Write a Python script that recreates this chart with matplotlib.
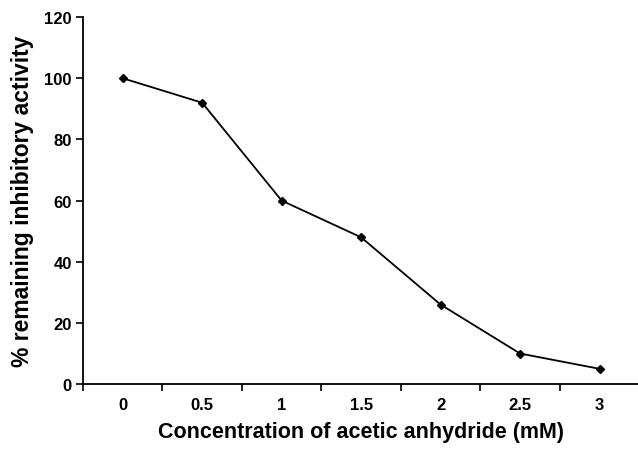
import numpy as np
import matplotlib
matplotlib.use('Agg')
import matplotlib.pyplot as plt

plt.rcParams['font.family'] = ['Liberation Sans', 'DejaVu Sans']
plt.rcParams['font.weight'] = 'bold'

conc_labels = ['0', '0.5', '1', '1.5', '2', '2.5', '3']
activity = [100, 92, 60, 48, 26, 10, 5]

fig = plt.figure(figsize=(6.38, 4.52), dpi=100)
ax = fig.add_axes([0.130, 0.148, 0.872, 0.812])

x = np.arange(len(conc_labels))
ax.plot(x, activity, color='black', lw=1.3, marker='D', ms=4.5,
        markerfacecolor='black', markeredgecolor='black')

ax.set_xlim(-0.5, len(conc_labels) - 0.5)
ax.set_ylim(0, 120)
ax.set_yticks(range(0, 121, 20))

# category axis: tick marks between categories, labels centred
ax.set_xticks(np.arange(-0.5, len(conc_labels), 1.0))
ax.set_xticklabels([])
ax.set_xticks(x, minor=True)
ax.set_xticklabels(conc_labels, minor=True)
ax.tick_params(axis='x', which='major', direction='out', length=5, width=1.2)
ax.tick_params(axis='x', which='minor', length=0, pad=9, labelsize=12)
ax.tick_params(axis='y', direction='out', length=5, width=1.2, labelsize=12, pad=3)

for s in ['top', 'right']:
    ax.spines[s].set_visible(False)
for s in ['left', 'bottom']:
    ax.spines[s].set_linewidth(1.3)

ax.set_xlabel('Concentration of acetic anhydride (mM)', fontsize=15.5,
              fontweight='bold', labelpad=7)
ax.set_ylabel('% remaining inhibitory activity', fontsize=16.5,
              fontweight='bold', labelpad=7)

fig.savefig('out.png', dpi=100)
